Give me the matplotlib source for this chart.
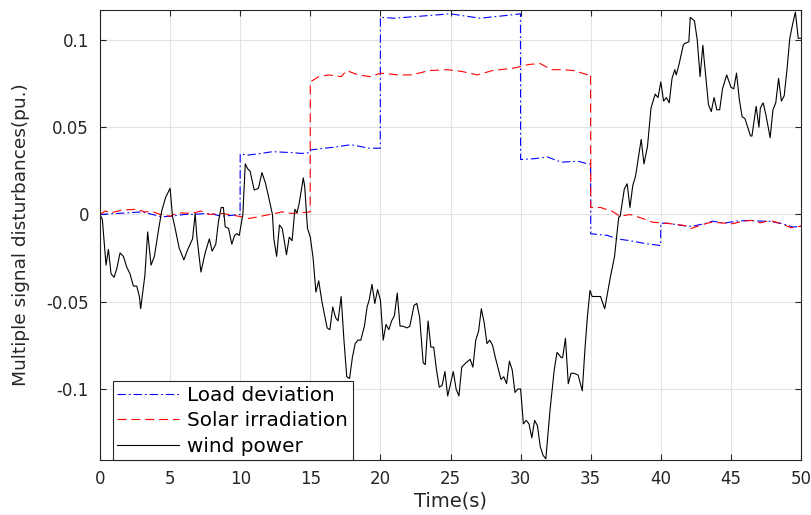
import matplotlib
matplotlib.use("Agg")
import matplotlib.pyplot as plt

# ---- data ----
load_t = [0, 1.0, 2.0, 3.0, 4.4, 5.1, 6.0, 6.8, 7.8, 8.7, 9.4, 9.99,
          10.0, 10.5, 11.5, 12.3, 13.6, 14.4, 14.99,
          15.0, 16.6, 17.9, 19.2, 19.99,
          20.0, 21.0, 23.4, 25.0, 27.1, 28.9, 29.99,
          30.0, 31.0, 31.9, 32.9, 34.1, 34.8, 34.99,
          35.0, 36.2, 36.9, 37.8, 39.0, 39.99,
          40.0, 40.5, 41.5, 42.2, 43.1, 43.7, 44.5, 45.4, 46.3, 47.0, 47.7, 48.7, 49.4, 50.0]
load_v = [0.0, 0.0005, 0.001, 0.0015, -0.0013, -0.001, 0.0, 0.0002, 0.0006, -0.001, -0.0005, 0.0,
          0.0348, 0.034, 0.035, 0.036, 0.0355, 0.035, 0.0355,
          0.037, 0.0385, 0.040, 0.038, 0.038,
          0.113, 0.1125, 0.114, 0.115, 0.1125, 0.114, 0.115,
          0.0315, 0.032, 0.033, 0.030, 0.0305, 0.029, 0.029,
          -0.011, -0.012, -0.014, -0.015, -0.0168, -0.0178,
          -0.005, -0.005, -0.0063, -0.0068, -0.0053, -0.0038, -0.005, -0.0038, -0.0034, -0.0038,
          -0.0038, -0.0053, -0.0072, -0.0067]

solar_t = [0, 0.36, 0.8, 1.55, 2.62, 3.2, 3.8, 4.3, 5.0, 5.6, 6.5, 7.2, 7.8, 8.7, 9.2, 10.1, 10.6,
           11.3, 12.1, 13.0, 13.7, 14.4, 14.99,
           15.0, 15.6, 16.3, 17.2, 17.6, 18.4, 19.3, 20.0, 21.3, 22.2, 23.5, 24.8, 25.8, 26.9,
           28.0, 29.6, 30.6, 31.4, 32.2, 33.0, 33.8, 34.8, 34.99,
           35.0, 35.7, 36.5, 37.1, 37.8, 38.6, 39.4, 40.0, 40.7, 41.7, 42.1, 42.9, 43.6, 44.3,
           45.1, 45.9, 46.5, 47.1, 47.8, 48.6, 49.3, 50.0]
solar_v = [0.0, 0.002, 0.001, 0.0025, 0.003, 0.0015, 0.0015, 0.0, -0.001, 0.001, 0.0006, 0.002,
           0.0, 0.0006, 0.0, -0.0013, -0.0023, -0.0013, 0.0, 0.0015, 0.0006, 0.001, 0.0015,
           0.076, 0.079, 0.080, 0.079, 0.0825, 0.080, 0.079, 0.081, 0.080, 0.080, 0.0825,
           0.083, 0.082, 0.080, 0.0825, 0.084, 0.086, 0.0865, 0.083, 0.083, 0.0825, 0.080, 0.0806,
           0.004, 0.004, 0.002, -0.001, 0.0, -0.002, -0.0044, -0.0048, -0.0053, -0.0063, -0.0082,
           -0.006, -0.0044, -0.0048, -0.0053, -0.0038, -0.0034, -0.0048, -0.0034, -0.0053,
           -0.0076, -0.0067]

wind_t = [0.0, 0.17, 0.43, 0.6, 0.79, 1.0, 1.2, 1.43, 1.67, 1.9, 2.14, 2.38, 2.62, 2.81, 2.9,
          3.2, 3.4, 3.64, 3.88, 4.17, 4.4, 4.69, 5.0, 5.17, 5.36, 5.64, 5.98, 6.26, 6.6, 6.79,
          6.9, 7.2, 7.5, 7.8, 8.0, 8.26, 8.45, 8.64, 8.8, 8.93, 9.17, 9.4, 9.6, 9.76, 9.93,
          10.19, 10.36, 10.55, 10.7, 11.0, 11.3, 11.55, 11.8, 12.0, 12.3, 12.4, 12.6, 12.8,
          13.0, 13.3, 13.5, 13.7, 13.9, 14.05, 14.2, 14.5, 14.6, 14.8, 15.0, 15.2, 15.4, 15.6,
          15.83, 16.2, 16.4, 16.6, 16.8, 16.98, 17.2, 17.4, 17.6, 17.8, 18.0, 18.2, 18.4, 18.6,
          18.86, 19.05, 19.2, 19.4, 19.6, 19.8, 20.0, 20.2, 20.4, 20.6, 20.8, 21.0, 21.2, 21.4,
          21.6, 21.9, 22.1, 22.4, 22.6, 22.8, 23.05, 23.2, 23.4, 23.6, 23.8, 24.0, 24.2, 24.4,
          24.6, 24.8, 25.2, 25.4, 25.6, 25.8, 26.1, 26.4, 26.6, 26.8, 27.0, 27.2, 27.4, 27.6,
          27.8, 28.0, 28.2, 28.6, 28.8, 29.0, 29.2, 29.4, 29.6, 29.8, 30.0, 30.2, 30.4, 30.6,
          30.8, 31.0, 31.2, 31.4, 31.6, 31.8, 32.1, 32.4, 32.6, 32.9, 33.0, 33.2, 33.4, 33.6,
          33.8, 34.1, 34.4, 34.6, 34.76, 34.95, 35.1, 35.4, 35.7, 36.0, 36.4, 36.7, 37.0, 37.1,
          37.4, 37.6, 37.8, 38.0, 38.2, 38.6, 38.8, 39.05, 39.3, 39.6, 39.8, 40.0, 40.2, 40.4,
          40.6, 40.8, 41.0, 41.1, 41.3, 41.6, 41.7, 42.0, 42.1, 42.4, 42.6, 42.8, 43.0, 43.1,
          43.4, 43.6, 43.8, 44.0, 44.2, 44.4, 44.7, 45.0, 45.2, 45.4, 45.6, 45.8, 46.0, 46.2,
          46.4, 46.5, 46.8, 47.0, 47.1, 47.3, 47.5, 47.8, 48.0, 48.2, 48.4, 48.6, 48.8, 49.0,
          49.2, 49.4, 49.6, 49.8, 50.0]
wind_v = [0.0, -0.003, -0.029, -0.020, -0.034, -0.036, -0.031, -0.022, -0.024, -0.030, -0.034,
          -0.041, -0.041, -0.047, -0.054, -0.035, -0.010, -0.029, -0.024, -0.009, 0.002, 0.010,
          0.015, -0.001, -0.008, -0.019, -0.026, -0.020, -0.014, 0.0006, -0.012, -0.033, -0.022,
          -0.014, -0.021, -0.017, -0.004, 0.004, 0.004, -0.007, -0.008, -0.017, -0.012, -0.011,
          -0.012, 0.0, 0.029, 0.026, 0.025, 0.014, 0.015, 0.024, 0.018, 0.011, 0.0, -0.014,
          -0.024, -0.006, -0.008, -0.023, -0.013, -0.015, 0.003, 0.001, 0.006, 0.021, 0.016,
          -0.008, -0.013, -0.025, -0.0445, -0.038, -0.050, -0.065, -0.066, -0.053, -0.059,
          -0.061, -0.047, -0.072, -0.093, -0.094, -0.082, -0.074, -0.072, -0.072, -0.064,
          -0.053, -0.049, -0.040, -0.051, -0.043, -0.049, -0.072, -0.063, -0.066, -0.061,
          -0.058, -0.045, -0.064, -0.064, -0.065, -0.064, -0.052, -0.051, -0.059, -0.085,
          -0.086, -0.061, -0.076, -0.076, -0.089, -0.099, -0.098, -0.090, -0.104, -0.090,
          -0.100, -0.104, -0.0875, -0.085, -0.083, -0.0875, -0.072, -0.067, -0.054, -0.062,
          -0.074, -0.072, -0.075, -0.082, -0.0945, -0.093, -0.097, -0.084, -0.089, -0.102,
          -0.100, -0.100, -0.120, -0.118, -0.120, -0.128, -0.118, -0.121, -0.133, -0.138,
          -0.140, -0.112, -0.089, -0.079, -0.082, -0.082, -0.071, -0.097, -0.091, -0.091,
          -0.092, -0.101, -0.076, -0.059, -0.0435, -0.047, -0.047, -0.047, -0.054, -0.036,
          -0.024, -0.0015, -0.001, 0.0147, 0.0176, 0.004, 0.0166, 0.022, 0.043, 0.029, 0.039,
          0.061, 0.069, 0.067, 0.076, 0.065, 0.067, 0.064, 0.078, 0.083, 0.080, 0.086, 0.097,
          0.098, 0.099, 0.113, 0.111, 0.100, 0.079, 0.097, 0.088, 0.063, 0.059, 0.067, 0.060,
          0.060, 0.072, 0.080, 0.073, 0.072, 0.081, 0.066, 0.056, 0.055, 0.050, 0.045, 0.045,
          0.062, 0.050, 0.061, 0.064, 0.057, 0.044, 0.060, 0.064, 0.078, 0.065, 0.068, 0.083,
          0.101, 0.109, 0.116, 0.101, 0.101]

x_ticks = [0, 5, 10, 15, 20, 25, 30, 35, 40, 45, 50]
y_ticks = [-0.1, -0.05, 0, 0.05, 0.1]
y_tick_labels = ["-0.1", "-0.05", "0", "0.05", "0.1"]

plt.rcParams["font.family"] = ["DejaVu Sans"]
plt.rcParams["lines.scale_dashes"] = False
text_color = "#262626"

fig = plt.figure(figsize=(8.11, 5.15), dpi=100)
ax = fig.add_axes([100 / 811, 1 - 460 / 515, 701 / 811, 450 / 515])

ax.plot(load_t, load_v, color="blue", lw=0.8, dashes=(6, 2.2, 1.2, 2.2), label="Load deviation")
ax.plot(solar_t, solar_v, color="red", lw=0.8, dashes=(6.5, 3.5), label="Solar irradiation")
ax.plot(wind_t, wind_v, color="black", lw=0.8, label="wind power")

ax.set_xlim(0, 50)
ax.set_ylim(-0.1407, 0.1172)
ax.set_xticks(x_ticks)
ax.set_yticks(y_ticks)
ax.set_yticklabels(y_tick_labels)
ax.grid(True, color="#e3e3e3", lw=0.8)
ax.set_axisbelow(True)
ax.tick_params(direction="in", top=True, right=True, length=4, width=0.8,
               colors=text_color, labelsize=12)
ax.tick_params(axis="x", pad=7)
ax.tick_params(axis="y", pad=8)
for sp in ax.spines.values():
    sp.set_color(text_color)
    sp.set_linewidth(0.8)

ax.set_xlabel("Time(s)", fontsize=14, color=text_color, labelpad=2.5)
ax.set_ylabel("Multiple signal disturbances(pu.)", fontsize=13.3, color=text_color, labelpad=12)

leg = ax.legend(loc="lower left", bbox_to_anchor=(0.0185, 0.0), fontsize=14.4,
                frameon=True, fancybox=False, framealpha=1, edgecolor=text_color,
                handlelength=3.1, handletextpad=0.4, labelspacing=0.32,
                borderpad=0.22, borderaxespad=0.0)
leg.get_frame().set_linewidth(0.8)

fig.savefig("out.png", dpi=100)
